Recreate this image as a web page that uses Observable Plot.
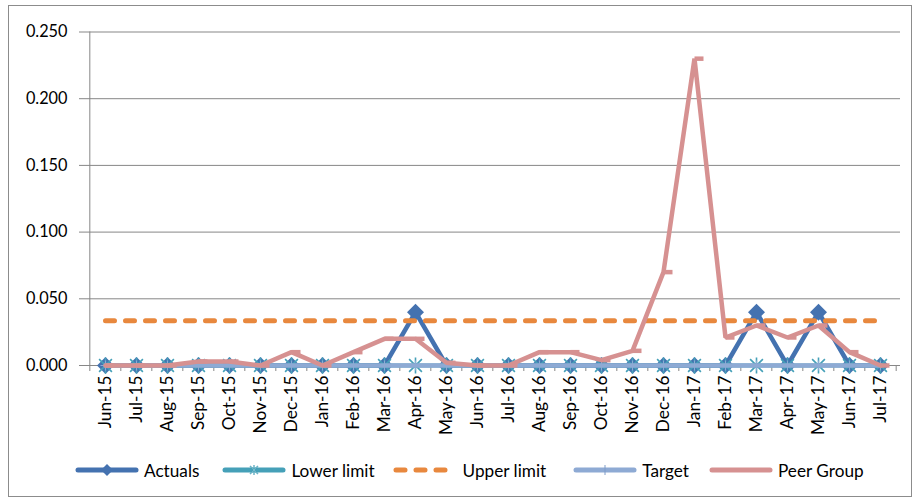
<!DOCTYPE html>
<html><head><meta charset="utf-8">
<script src="https://cdn.jsdelivr.net/npm/d3@7"></script>
<script src="https://cdn.jsdelivr.net/npm/@observablehq/plot@0.6"></script>
<style>
body{margin:0;background:#fff;font-family:Lato,sans-serif;color:#000}
#wrap{position:relative;width:920px;height:501px;overflow:hidden;background:#fff}
#frame{position:absolute;left:8px;top:5px;width:904px;height:492px;border:1px solid #8c8c8c;box-sizing:border-box;pointer-events:none}
#chart{position:absolute;left:0;top:0}
#legend{position:absolute;left:0;top:458px;width:920px;height:24px;display:flex;align-items:center;padding-left:75px;box-sizing:border-box;font-size:17.2px}
.item{display:flex;align-items:center;margin-right:22px}
.item svg{margin-right:5px}
</style>
</head><body>
<div id="wrap"><div id="chart"></div><div id="legend"></div><div id="frame"></div></div>
<script>
const months = ["Jun-15","Jul-15","Aug-15","Sep-15","Oct-15","Nov-15","Dec-15","Jan-16","Feb-16","Mar-16","Apr-16","May-16","Jun-16","Jul-16","Aug-16","Sep-16","Oct-16","Nov-16","Dec-16","Jan-17","Feb-17","Mar-17","Apr-17","May-17","Jun-17","Jul-17"];
const actuals = [0,0,0,0,0,0,0,0,0,0,0.040,0,0,0,0,0,0,0,0,0,0,0.040,0,0.040,0,0];
const lowerLimit = [0,0,0,0,0,0,0,0,0,0,0,0,0,0,0,0,0,0,0,0,0,0,0,0,0,0];
const upperLimit = [0.0335,0.0335,0.0335,0.0335,0.0335,0.0335,0.0335,0.0335,0.0335,0.0335,0.0335,0.0335,0.0335,0.0335,0.0335,0.0335,0.0335,0.0335,0.0335,0.0335,0.0335,0.0335,0.0335,0.0335,0.0335,0.0335];
const target = [0,0,0,0,0,0,0,0,0,0,0,0,0,0,0,0,0,0,0,0,0,0,0,0,0,0];
const peerGroup = [0,0,0,0.003,0.003,0,0.010,0,0.010,0.020,0.020,0.002,0,0,0.010,0.010,0.004,0.011,0.070,0.230,0.021,0.030,0.021,0.030,0.010,0];
const yTicks = [0,0.05,0.10,0.15,0.20,0.25];
const seriesNames = ["Actuals","Lower limit","Upper limit","Target","Peer Group"];
const colors = {"Actuals":"#4472b0","Lower limit":"#45a0b8","Upper limit":"#e8883e","Target":"#8eaad4","Peer Group":"#d69191"};

const rows = (vals) => months.map((m,i)=>({month:m, value:vals[i]}));

const W = 920, H = 445, mL = 85, mR = 20, mT = 31.5, mB = 80;
const step = (W - mL - mR) / months.length;

const diamondSym = {draw(ctx,size){const r=Math.sqrt(size/Math.PI);ctx.moveTo(0,-r);ctx.lineTo(r,0);ctx.lineTo(0,r);ctx.lineTo(-r,0);ctx.closePath();}};
const starSym = {draw(ctx,size){const r=Math.sqrt(size/Math.PI);const a=r*0.8;ctx.moveTo(0,-r);ctx.lineTo(0,r);ctx.moveTo(-a,-a);ctx.lineTo(a,a);ctx.moveTo(-a,a);ctx.lineTo(a,-a);}};
const plusSym = {draw(ctx,size){const r=Math.sqrt(size/Math.PI);ctx.moveTo(0,-r);ctx.lineTo(0,r);ctx.moveTo(-r,0);ctx.lineTo(r,0);}};
const dashSym = {draw(ctx,size){const r=Math.sqrt(size/Math.PI);ctx.moveTo(0,0);ctx.lineTo(r,0);}};

const grey = "#878787";
const chart = Plot.plot({
  width: W, height: H,
  marginLeft: mL, marginRight: mR, marginTop: mT, marginBottom: mB,
  style: {fontFamily: "Lato, sans-serif", fontSize: "16px", color: "#000", background: "transparent", overflow: "visible"},
  x: {type: "point", domain: months, padding: 0.5, align: 0.5},
  y: {domain: [0, 0.25]},
  marks: [
    Plot.gridY(yTicks, {stroke: grey, strokeOpacity: 1, strokeWidth: 1}),
    Plot.ruleX([months[0]], {dx: -step/2, stroke: grey, strokeWidth: 1}),
    Plot.axisY(yTicks, {tickFormat: d3.format(".3f"), tickSize: 6, tickPadding: 12, stroke: grey, fill: "#000", fontSize: 16.3, label: null}),
    Plot.axisX(months, {tickSize: 0, tickPadding: 10, tickRotate: -90, fill: "#000", fontSize: 17.3, label: null}),
    Plot.axisX(months, {tickSize: 6, dx: -step/2, tickFormat: () => "", stroke: grey, label: null}),
    Plot.axisX([months[months.length-1]], {tickSize: 6, dx: step/2, tickFormat: () => "", stroke: grey, label: null}),
    Plot.line(rows(actuals), {x: "month", y: "value", stroke: colors["Actuals"], strokeWidth: 4.5, strokeLinejoin: "miter"}),
    Plot.dot(rows(actuals), {x: "month", y: "value", symbol: diamondSym, r: 8.5, fill: colors["Actuals"], stroke: "none"}),
    Plot.line(rows(lowerLimit), {x: "month", y: "value", stroke: colors["Lower limit"], strokeWidth: 4}),
    Plot.dot(rows(lowerLimit), {x: "month", y: "value", symbol: starSym, r: 8, fill: "none", stroke: colors["Lower limit"], strokeWidth: 1.6}),
    Plot.line(rows(upperLimit), {x: "month", y: "value", stroke: colors["Upper limit"], strokeWidth: 5, strokeDasharray: "9,11", strokeLinecap: "round"}),
    Plot.line(rows(target), {x: "month", y: "value", stroke: colors["Target"], strokeWidth: 4.5}),
    Plot.dot(rows(target), {x: "month", y: "value", symbol: plusSym, r: 5, fill: "none", stroke: colors["Target"], strokeWidth: 1}),
    Plot.line(rows(peerGroup), {x: "month", y: "value", stroke: colors["Peer Group"], strokeWidth: 4.5, strokeLinejoin: "miter"}),
    Plot.dot(rows(peerGroup), {x: "month", y: "value", symbol: dashSym, r: 9, fill: "none", stroke: colors["Peer Group"], strokeWidth: 4.5, strokeLinecap: "butt"})
  ]
});
document.getElementById("chart").appendChild(chart);

// Legend
const legend = document.getElementById("legend");
const ns = "http://www.w3.org/2000/svg";
function sample(name){
  const s = document.createElementNS(ns, "svg");
  const w = name === "Upper limit" ? 58 : 64;
  s.setAttribute("width", w); s.setAttribute("height", 14);
  const c = colors[name];
  let html = "";
  if (name === "Upper limit") {
    html = `<line x1="3" y1="7" x2="${w-3}" y2="7" stroke="${c}" stroke-width="5" stroke-linecap="round" stroke-dasharray="9,11"/>`;
  } else {
    html = `<line x1="3" y1="7" x2="${w-3}" y2="7" stroke="${c}" stroke-width="5" stroke-linecap="round"/>`;
    if (name === "Actuals") html += `<path d="M32,1L38,7L32,13L26,7Z" fill="${c}"/>`;
    if (name === "Lower limit") html += `<path d="M32,2V12M28,3L36,11M28,11L36,3" stroke="${c}" stroke-width="1.3" fill="none"/><path d="M32,2V12M28,3L36,11M28,11L36,3" stroke="#fff" stroke-opacity="0.35" stroke-width="0.6" fill="none"/>`;
    if (name === "Target") html += `<path d="M32,2V12" stroke="#7f9cc8" stroke-width="1"/>`;
  }
  s.innerHTML = html;
  return s;
}
const gaps = [23, 18, 27, 20, 0];
seriesNames.forEach((name,i) => {
  const it = document.createElement("div");
  it.className = "item";
  it.style.marginRight = gaps[i] + "px";
  const sv = sample(name);
  if (name === "Upper limit") sv.style.marginRight = "12px";
  it.appendChild(sv);
  const t = document.createElement("span");
  t.textContent = name;
  it.appendChild(t);
  legend.appendChild(it);
});
</script>
</body></html>
